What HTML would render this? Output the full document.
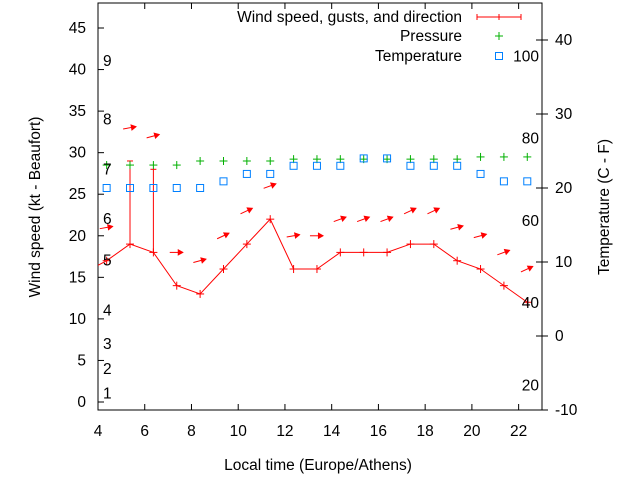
<!DOCTYPE html>
<html><head><meta charset="utf-8"><style>
body{margin:0;background:#fff}
svg{display:block;font-family:"Liberation Sans",sans-serif}
</style></head><body>
<svg id="chart" width="640" height="480" viewBox="0 0 640 480">
<rect x="0" y="0" width="640" height="480" fill="#fff"/>
<g id="grid"></g>
<g id="marks"></g>
<g id="labels" font-size="15.5"></g>
</svg>
<script>
const hours = [3.37,4.37,5.37,6.37,7.37,8.37,9.37,10.37,11.37,12.37,13.37,14.37,15.37,16.37,17.37,18.37,19.37,20.37,21.37,22.37];
const windSpeed = [15.5,17,19,18,14,13,16,19,22,16,16,18,18,18,19,19,17,16,14,12];
const gusts = [null,null,29,28,null,null,null,null,null,null,null,null,null,null,null,null,null,null,null,null];
const windDir = [null,10,10,15,0,15,25,25,20,10,0,20,20,20,25,25,15,15,20,25];
const pressure = [null,23.1,23.1,23.1,23.1,23.65,23.65,23.65,23.65,23.9,23.9,23.9,23.9,23.9,23.9,23.9,23.9,24.2,24.2,24.2];
const temperature = [null,20,20,20,20,20,20.9,21.9,21.9,23,23,23,24,24,23,23,23,21.9,20.9,20.9];
const xTicks = [4,6,8,10,12,14,16,18,20,22];
const yTicks = [0,5,10,15,20,25,30,35,40,45];
const y2Ticks = [-10,0,10,20,30,40];
const beaufort = [[1,1],[2,4],[3,7],[4,11],[5,17],[6,22],[7,28],[8,34],[9,41]];
const fahr = [20,40,60,80,100];

const L=98,R=542,T=3,B=410;
const X=h=>L+(h-4)*(R-L)/19;
const Y=v=>402-v*(402-28)/45;
const Y2=v=>336-v*7.4;
const NS="http://www.w3.org/2000/svg";
function mk(tag,attrs,parent,text){const e=document.createElementNS(NS,tag);for(const k in attrs)e.setAttribute(k,attrs[k]);if(text!==undefined)e.textContent=text;parent.appendChild(e);return e;}
const svg=document.getElementById('chart');
const grid=document.getElementById('grid'), marks=document.getElementById('marks'), labels=document.getElementById('labels');

const defs=mk('defs',{},svg);
const cp=mk('clipPath',{id:'clip'},defs);mk('rect',{x:L,y:T,width:R-L,height:B-T},cp);
marks.setAttribute('clip-path','url(#clip)');

let fr=mk('rect',{x:L,y:T,width:R-L,height:B-T,fill:'none',stroke:'#000','stroke-width':1},grid);



xTicks.forEach(t=>{const x=X(t);
 mk('line',{x1:x,y1:B,x2:x,y2:B-6,stroke:'#000'},grid);
 mk('line',{x1:x,y1:T,x2:x,y2:T+6,stroke:'#000'},grid);
 const e=mk('text',{x:x,y:B+26,'text-anchor':'middle'},labels,String(t));
 
 
});
yTicks.forEach(t=>{const y=Y(t);
 mk('line',{x1:L,y1:y,x2:L+6,y2:y,stroke:'#000'},grid);
 const e=mk('text',{x:L-12,y:y+5,'text-anchor':'end'},labels,String(t));
 
 
});
y2Ticks.forEach(t=>{const y=Y2(t);
 mk('line',{x1:R-6,y1:y,x2:R+6,y2:y,stroke:'#000'},grid);
 const e=mk('text',{x:R+13,y:y+5},labels,String(t));
 
 
});
beaufort.forEach(b=>{
 const e=mk('text',{x:103,y:Y(b[1])+5},labels,String(b[0]));
 
 
});
fahr.forEach(f=>{
 const e=mk('text',{x:539,y:Y2((f-32)*5/9)+5,'text-anchor':'end'},labels,String(f));
 
 
});

let pts=hours.map((h,i)=>X(h)+','+Y(windSpeed[i])).join(' ');
let wl=mk('polyline',{points:pts,fill:'none',stroke:'#f00','stroke-width':1},marks);


hours.forEach((h,i)=>{const x=X(h),y=Y(windSpeed[i]);
 const g=mk('g',{stroke:'#f00','stroke-width':1},marks);
 
 
 mk('line',{x1:x-4,y1:y,x2:x+4,y2:y},g);mk('line',{x1:x,y1:y-4,x2:x,y2:y+4},g);
 if(gusts[i]!=null){const gy=Y(gusts[i]);
  mk('line',{x1:x,y1:y,x2:x,y2:gy},g);mk('line',{x1:x-3,y1:gy,x2:x+3,y2:gy},g);}
 if(windDir[i]!=null){
  const top=Math.max(windSpeed[i],gusts[i]||0)+4;
  const ay=Y(top), a=-windDir[i]*Math.PI/180;
  const c=Math.cos(a),s=Math.sin(a);
  const x1=x-7*c,y1=ay-7*s,x2=x+6*c,y2=ay+6*s;
  const ar=mk('g',{},marks);
  
  
  mk('line',{x1:x1,y1:y1,x2:x2,y2:y2,stroke:'#f00','stroke-width':1},ar);
  const hx=x2-4.5*c,hy=y2-4.5*s;
  mk('polygon',{points:`${x2},${y2} ${hx-2.5*s},${hy+2.5*c} ${hx+2.5*s},${hy-2.5*c}`,fill:'#f00',stroke:'#f00'},ar);
 }
});
hours.forEach((h,i)=>{if(pressure[i]==null)return;const x=X(h),y=Y2(pressure[i]);
 const g=mk('g',{stroke:'#00b000','stroke-width':1},marks);
 
 
 mk('line',{x1:x-4,y1:y,x2:x+4,y2:y},g);mk('line',{x1:x,y1:y-4,x2:x,y2:y+4},g);
});
hours.forEach((h,i)=>{if(temperature[i]==null)return;const x=X(h),y=Y2(temperature[i]);
 const r=mk('rect',{x:x-3.5,y:y-3.5,width:7,height:7,fill:'none',stroke:'#0080ff','stroke-width':1},marks);
 
 
});

const lg=mk('g',{},svg);


mk('text',{x:462,y:22,'text-anchor':'end','font-size':15.5},lg,'Wind speed, gusts, and direction');
mk('line',{x1:477,y1:17,x2:521,y2:17,stroke:'#f00'},lg);
[477,499,521].forEach(x=>mk('line',{x1:x,y1:14,x2:x,y2:20,stroke:'#f00'},lg));
mk('text',{x:462,y:41,'text-anchor':'end','font-size':15.5},lg,'Pressure');
mk('line',{x1:495,y1:36,x2:503,y2:36,stroke:'#00b000'},lg);mk('line',{x1:499,y1:32,x2:499,y2:40,stroke:'#00b000'},lg);
mk('text',{x:462,y:61,'text-anchor':'end','font-size':15.5},lg,'Temperature');
mk('rect',{x:495.5,y:52.5,width:7,height:7,fill:'none',stroke:'#0080ff'},lg);

let t1=mk('text',{x:318,y:470,'text-anchor':'middle','font-size':15.5},labels,'Local time (Europe/Athens)');

let t2=mk('text',{x:0,y:0,'text-anchor':'middle','font-size':15.5,transform:'translate(40,207) rotate(-90)'},labels,'Wind speed (kt - Beaufort)');

let t3=mk('text',{x:0,y:0,'text-anchor':'middle','font-size':15.5,transform:'translate(609,207) rotate(-90)'},labels,'Temperature (C - F)');

</script>
</body></html>
